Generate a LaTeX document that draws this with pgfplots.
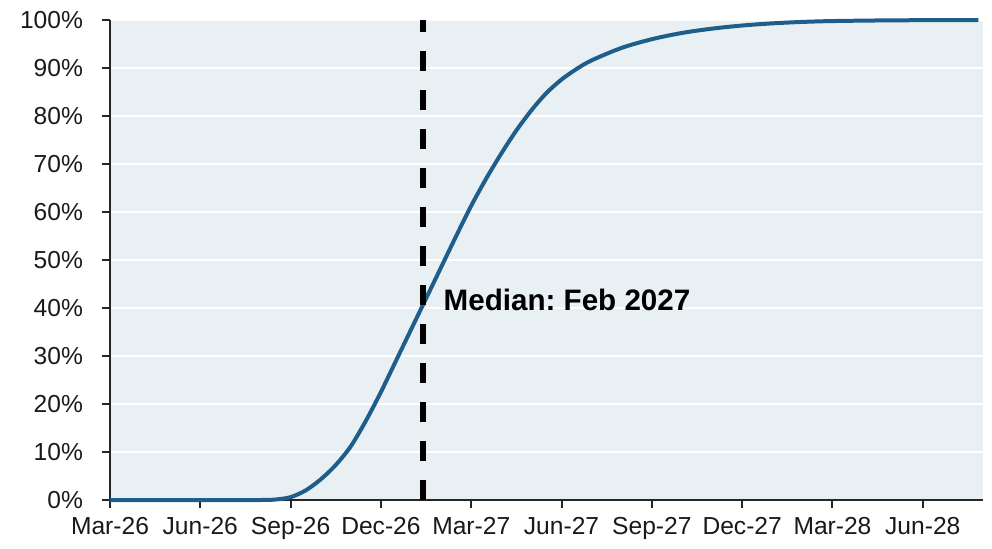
\documentclass[border=0pt]{standalone}
\usepackage{pgfplots}
\pgfplotsset{compat=1.18}
\usepackage{fontspec}
\setmainfont{Liberation Sans}
\frenchspacing
\definecolor{bgcol}{RGB}{232,240,244}
\definecolor{curvecol}{RGB}{31,93,138}
\begin{document}
\begin{tikzpicture}
\begin{axis}[
  scale only axis, width=436.5pt, height=240pt,
  xmin=0, xmax=29, ymin=0, ymax=100,
  axis x line*=bottom, axis y line*=left,
  axis line style={line width=1pt, color=black!85},
  axis background/.style={fill=bgcol},
  tick align=outside, major tick length=4pt,
  tick style={line width=1pt, color=black!85},
  xtick={0,3,...,27},
  xticklabels={Mar-26,Jun-26,Sep-26,Dec-26,Mar-27,Jun-27,Sep-27,Dec-27,Mar-28,Jun-28},
  ytick={0,10,...,100},
  yticklabel={\pgfmathprintnumber{\tick}\%},
  /pgf/number format/assume math mode=true,
  tick label style={font=\fontsize{12.3}{14}\selectfont, text=black!90},
  yticklabel style={xshift=-6pt},
  xticklabel style={yshift=-1pt},
  ymajorgrids, grid style={white, line width=1pt},
  clip=false,
]
\coordinate (sw) at (rel axis cs:0,0);
\addplot[curvecol, line width=2pt, smooth] coordinates {
(0,0) (3,0) (5,0) (5.5,0.1) (6,0.6) (6.5,2.0) (7,4.3) (7.5,7.3) (8,11.2)
(8.5,16.5) (9,22.5) (9.5,29) (10,35.5) (10.5,42) (11,48.5) (11.5,55) (12,61.3)
(12.5,67) (13,72.2) (13.5,77) (14,81.2) (14.5,84.8) (15,87.6) (15.5,89.8) (16,91.6)
(17,94.2) (18,96) (19,97.3) (20,98.2) (21,98.85) (22,99.3) (23,99.6) (24,99.78)
(26,99.93) (28.85,100)
};
\addplot[black, line width=2.6pt, dash pattern=on 10pt off 9.5pt] coordinates {(10.4,0) (10.4,100)};
\node[anchor=west, inner sep=0pt, font=\fontsize{14.8}{17}\selectfont\bfseries] at (axis cs:11.07,41.7) {Median: Feb 2027};
\end{axis}
\pgfresetboundingbox
\path[use as bounding box] ([shift={(-55pt,-24pt)}]sw) rectangle ([shift={(441pt,250pt)}]sw);
\end{tikzpicture}
\end{document}
